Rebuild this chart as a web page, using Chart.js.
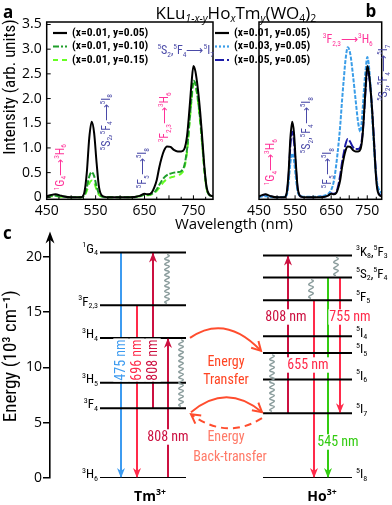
<!DOCTYPE html>
<html>
<head>
<meta charset="utf-8">
<script src="https://cdn.jsdelivr.net/npm/chart.js@4.4.1/dist/chart.umd.min.js"></script>
<style>
  html, body { margin: 0; padding: 0; background: #fff; }
  #wrap { position: relative; width: 392px; height: 505px; overflow: hidden; }
  canvas { position: absolute; left: 0; }
</style>
</head>
<body>
<div id="wrap">
  <canvas id="chartB" width="392" height="235" style="top:0"></canvas>
  <canvas id="chartA" width="392" height="235" style="top:0"></canvas>
  <canvas id="chartC" width="392" height="280" style="top:225px"></canvas>
</div>
<script>
// ---- spectra (panels a, b) ----
const wl = [450, 460, 468, 480, 500, 520, 527, 532, 537, 542, 547, 552, 557, 565, 580, 600, 620, 640, 650, 658,
  665, 670, 675, 680, 685, 690, 696, 703, 710, 718, 725, 731, 737, 742, 746, 750, 754, 759, 764, 768, 773, 777, 782, 790];
const x01y05 = [0.02, 0.05, 0.06, 0.03, 0, 0, 0.1, 0.5, 1.2, 1.53, 1.3, 0.7, 0.2, 0.02, 0, 0, 0, 0.03, 0.07, 0.06,
  0.1, 0.2, 0.35, 0.6, 0.8, 0.95, 1.03, 1.02, 0.96, 0.93, 0.93, 0.97, 1.25, 1.8, 2.3, 2.66, 2.55, 2.2, 1.7, 1.2, 0.55, 0.2, 0.06, 0.02];
const x01y10 = [0.01, 0.03, 0.03, 0.02, 0, 0, 0.04, 0.2, 0.42, 0.51, 0.43, 0.22, 0.07, 0.01, 0, 0, 0, 0.02, 0.05, 0.05,
  0.07, 0.1, 0.16, 0.25, 0.33, 0.4, 0.45, 0.48, 0.5, 0.51, 0.53, 0.63, 0.98, 1.55, 2.0, 2.36, 2.3, 2.0, 1.55, 1.1, 0.5, 0.18, 0.05, 0.02];
const x01y15 = [0.01, 0.02, 0.02, 0.01, 0, 0, 0.03, 0.13, 0.28, 0.34, 0.3, 0.15, 0.05, 0.01, 0, 0, 0, 0.02, 0.04, 0.04,
  0.06, 0.09, 0.13, 0.19, 0.26, 0.32, 0.37, 0.4, 0.42, 0.45, 0.48, 0.58, 0.93, 1.5, 1.95, 2.3, 2.26, 1.97, 1.5, 1.05, 0.47, 0.17, 0.05, 0.02];
const x03y05 = [0, 0.02, 0.02, 0.01, 0, 0.01, 0.05, 0.3, 0.7, 0.89, 0.75, 0.4, 0.12, 0.03, 0.01, 0.01, 0.02, 0.06, 0.15, 0.35,
  0.72, 1.05, 1.45, 1.95, 2.4, 2.8, 3.04, 2.9, 2.5, 1.95, 1.5, 1.33, 1.76, 2.3, 2.62, 2.84, 2.7, 2.25, 1.58, 1.1, 0.55, 0.3, 0.16, 0.08];
const x05y05 = [0.01, 0.04, 0.05, 0.02, 0, 0, 0.08, 0.42, 1.05, 1.33, 1.12, 0.6, 0.18, 0.02, 0, 0, 0.01, 0.03, 0.08, 0.07,
  0.12, 0.25, 0.45, 0.7, 0.9, 1.08, 1.18, 1.12, 1.02, 0.98, 0.98, 1.02, 1.3, 1.8, 2.25, 2.6, 2.5, 2.2, 1.72, 1.25, 0.62, 0.25, 0.08, 0.03];
const seriesNames = ["(x=0.01, y=0.05)", "(x=0.01, y=0.10)", "(x=0.01, y=0.15)", "(x=0.03, y=0.05)", "(x=0.05, y=0.05)"];
const xTicks = [450, 550, 650, 750];
const yTicks = [0, 0.5, 1, 1.5, 2, 2.5, 3, 3.5];

// ---- energy levels (panel c), 10^3 cm-1 ----
const tmLevels = ["^{1}G_{4}", "^{3}F_{2,3}", "^{3}H_{4}", "^{3}H_{5}", "^{3}F_{4}", "^{3}H_{6}"];
const tmEnergy = [20.36, 15.6, 12.65, 8.6, 6.3, 0];
const hoLevels = ["^{3}K_{8},^{5}F_{3}", "^{5}S_{2},^{5}F_{4}", "^{5}F_{5}", "^{5}I_{4}", "^{5}I_{5}", "^{5}I_{6}", "^{5}I_{7}", "^{5}I_{8}"];
const hoEnergy = [20.1, 18.1, 16.05, 12.8, 11.3, 8.9, 5.85, 0];
const eTicks = [0, 5, 10, 15, 20];
// optical transitions (level indices)
const tmFrom = [0, 1, 4, 5];
const tmTo = [5, 5, 0, 2];
const tmWave = ["475 nm", "696 nm", "808 nm", "808 nm"];
const hoFrom = [6, 2, 1, 1];
const hoTo = [0, 7, 7, 6];
const hoWave = ["808 nm", "655 nm", "545 nm", "755 nm"];
// non-radiative relaxation
const tmRelaxFrom = [0, 2];
const tmRelaxTo = [1, 4];
const hoRelaxFrom = [0, 1, 4];
const hoRelaxTo = [1, 2, 6];
// Tm -> Ho transfer, Ho -> Tm back-transfer
const etTm = [2, 4];
const etHo = [4, 6];
const btHo = [6];
const btTm = [4];

const NARROW = '"Liberation Sans Narrow", "Roboto Condensed", Roboto, sans-serif';
const SANS = '"Open Sans", "Noto Sans", sans-serif';
const MAGENTA = "#ff3399";
const HOBLUE = "#4a4aa8";

// text with ^{sup} and _{sub}; a leading * inside braces means italic
function drawRich(ctx, s, x, y, o) {
  const re = /([_^])\{([^}]*)\}|([^_^]+)/g;
  const parts = [];
  let m;
  while ((m = re.exec(s))) {
    let t = m[3] !== undefined ? m[3] : m[2];
    const k = m[3] !== undefined ? 0 : (m[1] === "^" ? 1 : -1);
    let italic = false;
    if (t[0] === "*") { italic = true; t = t.slice(1); }
    const size = k ? o.size * 0.62 : o.size;
    const font = `${italic ? "italic " : ""}${o.weight || "normal"} ${size}px ${o.family}`;
    ctx.font = font;
    parts.push({ t, k, font, w: ctx.measureText(t).width });
  }
  const total = parts.reduce((a, p) => a + p.w, 0);
  ctx.save();
  ctx.translate(x, y);
  if (o.rotate) ctx.rotate(o.rotate);
  let sx = o.align === "left" ? 0 : o.align === "right" ? -total : -total / 2;
  if (o.bg) {
    ctx.fillStyle = o.bg;
    ctx.fillRect(sx - 1, -o.size * 0.55, total + 2, o.size * 1.1);
  }
  ctx.fillStyle = o.color || "#000";
  ctx.textBaseline = "middle";
  ctx.textAlign = "left";
  for (const p of parts) {
    ctx.font = p.font;
    const dy = p.k === 1 ? -o.size * 0.33 : p.k === -1 ? o.size * 0.3 : 0;
    ctx.fillText(p.t, sx, dy);
    sx += p.w;
  }
  ctx.restore();
}

function arrowHead(ctx, x, y, ang, color, len = 10, hw = 4) {
  ctx.save();
  ctx.translate(x, y);
  ctx.rotate(ang);
  ctx.beginPath();
  ctx.moveTo(0, 0);
  ctx.lineTo(-len, -hw);
  ctx.lineTo(-len * 0.7, 0);
  ctx.lineTo(-len, hw);
  ctx.closePath();
  ctx.fillStyle = color;
  ctx.fill();
  ctx.restore();
}

function openHead(ctx, x, y, ang, color) {
  ctx.save();
  ctx.translate(x, y);
  ctx.rotate(ang);
  ctx.beginPath();
  ctx.moveTo(-9, -5);
  ctx.lineTo(0, 0);
  ctx.lineTo(-9, 5);
  ctx.strokeStyle = color;
  ctx.lineWidth = 2;
  ctx.stroke();
  ctx.restore();
}

function wavy(ctx, x, y0, y1) {
  const n = Math.max(2, Math.round(Math.abs(y1 - y0) / 5.5));
  const st = (y1 - y0) / n;
  ctx.beginPath();
  ctx.moveTo(x, y0);
  for (let i = 0; i < n; i++) {
    const ya = y0 + st * i;
    ctx.bezierCurveTo(x + 8, ya + st / 3, x - 8, ya + (2 * st) / 3, x, ya + st);
  }
  ctx.strokeStyle = "#8a9c9c";
  ctx.lineWidth = 1.4;
  ctx.stroke();
}

function spectrum(label, vals, color, dash, legendDash) {
  return {
    label,
    data: wl.map((w, i) => ({ x: w, y: vals[i] })),
    borderColor: color,
    borderDash: dash,
    legendDash,
    borderWidth: 2,
    pointRadius: 0,
    cubicInterpolationMode: "monotone",
    fill: false
  };
}

const panelPlugin = {
  id: "panel",
  afterDatasetsDraw(chart, args, opts) {
    const { ctx, chartArea: ca, scales: { x, y } } = chart;
    ctx.save();
    ctx.strokeStyle = "#000";
    ctx.lineWidth = 1.5;
    ctx.strokeRect(ca.left, ca.top, ca.right - ca.left, ca.bottom - ca.top);
    ctx.lineWidth = 1;
    for (let v = 475; v < 790; v += 25) {
      const px = x.getPixelForValue(v);
      ctx.beginPath();
      ctx.moveTo(px, ca.bottom);
      ctx.lineTo(px, ca.bottom - (v % 50 === 0 ? 4 : 2.5));
      ctx.stroke();
    }
    if (opts.yTicks) {
      for (const v of yTicks) {
        const py = y.getPixelForValue(v);
        ctx.beginPath();
        ctx.moveTo(ca.left, py);
        ctx.lineTo(ca.left + 4, py);
        ctx.stroke();
      }
    }
    chart.data.datasets.forEach((ds, i) => {
      const ly = opts.legendY + i * 13.5;
      ctx.beginPath();
      ctx.setLineDash(ds.legendDash || []);
      ctx.strokeStyle = ds.borderColor;
      ctx.lineWidth = 2.2;
      ctx.moveTo(opts.legendX, ly);
      ctx.lineTo(opts.legendX + 14, ly);
      ctx.stroke();
      ctx.setLineDash([]);
      ctx.font = `bold 11.5px ${NARROW}`;
      ctx.fillStyle = "#000";
      ctx.textBaseline = "middle";
      ctx.textAlign = "left";
      ctx.fillText(ds.label, opts.legendX + 19, ly);
    });
    for (const n of opts.notes) {
      drawRich(ctx, n.text, x.getPixelForValue(n.wl), y.getPixelForValue(n.val),
        { size: 12, family: NARROW, color: n.color, rotate: n.rot ? -Math.PI / 2 : 0 });
    }
    if (opts.captions) opts.captions(ctx);
    ctx.restore();
  }
};

function xAxis() {
  return {
    type: "linear", min: 450, max: 790,
    grid: { display: false, drawTicks: false },
    border: { display: false },
    afterBuildTicks: (s) => { s.ticks = xTicks.map((v) => ({ value: v })); },
    afterFit: (s) => { s.height = 35.7; },
    ticks: { padding: 3, color: "#000", font: { family: SANS, size: 14 }, maxRotation: 0, autoSkip: false }
  };
}

function yAxis(show) {
  return {
    display: show, min: -0.04, max: 3.55,
    grid: { display: false, drawTicks: false },
    border: { display: false },
    afterBuildTicks: (s) => { s.ticks = yTicks.map((v) => ({ value: v })); },
    afterFit: (s) => { s.width = 46.7; },
    ticks: { padding: 5, color: "#000", font: { family: SANS, size: 14 },
      callback: (v) => (v === 0 ? "0" : v.toFixed(1)) }
  };
}

const common = {
  responsive: false,
  animation: false,
  devicePixelRatio: 1,
  events: []
};

new Chart(document.getElementById("chartA"), {
  type: "line",
  data: {
    datasets: [
      spectrum(seriesNames[0], x01y05, "#000000", [], []),
      spectrum(seriesNames[1], x01y10, "#1f9e2a", [6, 2], [6, 2, 2, 2]),
      spectrum(seriesNames[2], x01y15, "#66ff22", [6, 4], [5, 4])
    ]
  },
  options: {
    ...common,
    layout: { padding: { left: 0, right: 179, top: 22, bottom: 0 } },
    scales: { x: xAxis(), y: yAxis(true) },
    plugins: {
      legend: { display: false },
      tooltip: { enabled: false },
      panel: {
        legendX: 53, legendY: 33, yTicks: true,
        notes: [
          { text: "^{1}G_{4}⟶^{3}H_{6}", wl: 479, val: 0.61, rot: true, color: MAGENTA },
          { text: "^{5}S_{2},^{5}F_{4}⟶^{5}I_{8}", wl: 573, val: 1.52, rot: true, color: HOBLUE },
          { text: "^{5}F_{5}⟶^{5}I_{8}", wl: 647, val: 0.59, rot: true, color: HOBLUE },
          { text: "^{3}F_{2,3}⟶^{3}H_{6}", wl: 692, val: 1.62, rot: true, color: MAGENTA },
          { text: "^{5}S_{2},^{5}F_{4}⟶^{5}I_{7}", wl: 734, val: 2.96, rot: false, color: HOBLUE }
        ],
        captions: (ctx) => {
          drawRich(ctx, "Intensity (arb. units)", 11, 87, { size: 17, family: NARROW, rotate: -Math.PI / 2 });
          drawRich(ctx, "a", 3, 13, { size: 17, family: SANS, weight: "bold", align: "left" });
        }
      }
    }
  },
  plugins: [panelPlugin]
});

new Chart(document.getElementById("chartB"), {
  type: "line",
  data: {
    datasets: [
      spectrum(seriesNames[0], x01y05, "#000000", [], []),
      spectrum(seriesNames[3], x03y05, "#3a9de8", [4, 1.5], [2, 2]),
      spectrum(seriesNames[4], x05y05, "#1c1ca8", [9, 2], [9, 3])
    ]
  },
  options: {
    ...common,
    layout: { padding: { left: 212.3, right: 10.3, top: 22, bottom: 0 } },
    scales: { x: xAxis(), y: yAxis(false) },
    plugins: {
      legend: { display: false },
      tooltip: { enabled: false },
      panel: {
        legendX: 215, legendY: 33, yTicks: false,
        notes: [
          { text: "^{1}G_{4}⟶^{3}H_{6}", wl: 484, val: 0.71, rot: true, color: MAGENTA },
          { text: "^{5}S_{2},^{5}F_{4}⟶^{5}I_{8}", wl: 584, val: 1.46, rot: true, color: HOBLUE },
          { text: "^{5}F_{5}⟶^{5}I_{8}", wl: 642, val: 0.59, rot: true, color: HOBLUE },
          { text: "^{3}F_{2,3}⟶^{3}H_{6}", wl: 696, val: 3.18, rot: false, color: MAGENTA },
          { text: "^{5}S_{2},^{5}F_{4}⟶^{5}I_{7}", wl: 797, val: 2.52, rot: true, color: HOBLUE }
        ],
        captions: (ctx) => {
          drawRich(ctx, "KLu_{*1-x-y}Ho_{*x}Tm_{*y}(WO_{4})_{2}", 236, 14, { size: 17, family: SANS });
          drawRich(ctx, "b", 371, 12, { size: 17, family: SANS, weight: "bold" });
          drawRich(ctx, "Wavelength (nm)", 234, 225, { size: 15, family: SANS });
        }
      }
    }
  },
  plugins: [panelPlugin]
});

// ---- panel c: energy level diagram ----
const TOP_C = 225;
const TM_X = [100, 186];
const HO_X = [263, 352];
const TM_ARROW_X = [121, 137, 153, 168];
const TM_ARROW_COLOR = ["#3d9bf0", "#ff2a4a", "#cc1040", "#cc1040"];
const HO_ARROW_X = [288, 314, 328, 340];
const HO_ARROW_COLOR = ["#cc1040", "#ff2a4a", "#33cc11", "#ff2a4a"];
const TM_RELAX_X = [167, 181];
const HO_RELAX_X = [336, 311, 272];

function seg(x0, x1, e0, e1, color) {
  return { data: [{ x: x0, y: e0 }, { x: x1, y: e1 }], borderColor: color, borderWidth: 2, pointRadius: 0, fill: false };
}

const diagramSets = [];
tmEnergy.forEach((e) => diagramSets.push(seg(TM_X[0], TM_X[1], e, e, "#000")));
hoEnergy.forEach((e) => diagramSets.push(seg(HO_X[0], HO_X[1], e, e, "#000")));
tmFrom.forEach((f, i) => diagramSets.push(seg(TM_ARROW_X[i], TM_ARROW_X[i], tmEnergy[f], tmEnergy[tmTo[i]], TM_ARROW_COLOR[i])));
hoFrom.forEach((f, i) => diagramSets.push(seg(HO_ARROW_X[i], HO_ARROW_X[i], hoEnergy[f], hoEnergy[hoTo[i]], HO_ARROW_COLOR[i])));

const diagramPlugin = {
  id: "diagram",
  afterDatasetsDraw(chart) {
    const { ctx, chartArea: ca, scales: { x, y } } = chart;
    const X = (v) => x.getPixelForValue(v);
    const Y = (e) => y.getPixelForValue(e);
    const P = (pageY) => pageY - TOP_C;
    ctx.save();
    arrowHead(ctx, X(50), ca.top - 3, -Math.PI / 2, "#000", 12, 4.5);

    tmRelaxFrom.forEach((f, i) => wavy(ctx, X(TM_RELAX_X[i]), Y(tmEnergy[f]) + 2, Y(tmEnergy[tmRelaxTo[i]]) - 2));
    hoRelaxFrom.forEach((f, i) => wavy(ctx, X(HO_RELAX_X[i]), Y(hoEnergy[f]) + 2, Y(hoEnergy[hoRelaxTo[i]]) - 2));

    tmFrom.forEach((f, i) => {
      const t = tmTo[i];
      arrowHead(ctx, X(TM_ARROW_X[i]), Y(tmEnergy[t]), tmEnergy[t] < tmEnergy[f] ? Math.PI / 2 : -Math.PI / 2, TM_ARROW_COLOR[i]);
    });
    hoFrom.forEach((f, i) => {
      const t = hoTo[i];
      arrowHead(ctx, X(HO_ARROW_X[i]), Y(hoEnergy[t]), hoEnergy[t] < hoEnergy[f] ? Math.PI / 2 : -Math.PI / 2, HO_ARROW_COLOR[i]);
    });

    // wavelength labels
    const lab = { size: 14, family: NARROW, bg: "#fff" };
    for (let i = 0; i < 3; i++) {
      drawRich(ctx, tmWave[i], X(TM_ARROW_X[i]), P(360), { ...lab, color: TM_ARROW_COLOR[i], rotate: -Math.PI / 2 });
    }
    drawRich(ctx, tmWave[3], X(TM_ARROW_X[3]), P(437), { ...lab, color: TM_ARROW_COLOR[3] });
    const hoLab = [[286, 317], [308, 365], [338, 442], [350, 317]];
    hoWave.forEach((w, i) => drawRich(ctx, w, X(hoLab[i][0]), P(hoLab[i][1]), { ...lab, color: HO_ARROW_COLOR[i] }));

    // level names
    tmLevels.forEach((n, i) => drawRich(ctx, n, X(98), Y(tmEnergy[i]) - 3, { size: 13, family: NARROW, align: "right" }));
    hoLevels.forEach((n, i) => drawRich(ctx, n, X(356), Y(hoEnergy[i]) - 3, { size: 13, family: NARROW, align: "left" }));

    // energy transfer arcs
    const ET = "#ff4d2e";
    const arcs = [
      { a: [TM_X[1] + 4, Y(tmEnergy[etTm[0]])], b: [HO_X[0] - 2, Y(hoEnergy[etHo[0]]) - 2], bend: -31, dash: [] },
      { a: [TM_X[1] + 5, Y(tmEnergy[etTm[1]]) + 4], b: [HO_X[0] - 1, Y(hoEnergy[etHo[1]]) - 1], bend: -30, dash: [] },
      { a: [HO_X[0] - 1, Y(hoEnergy[btHo[0]]) + 5], b: [TM_X[1] + 5, Y(tmEnergy[btTm[0]]) + 6], bend: 24, dash: [7, 5] }
    ];
    for (const c of arcs) {
      const cx = (c.a[0] + c.b[0]) / 2;
      const cy = (c.a[1] + c.b[1]) / 2 + c.bend;
      ctx.beginPath();
      ctx.setLineDash(c.dash);
      ctx.strokeStyle = ET;
      ctx.lineWidth = 2;
      ctx.moveTo(c.a[0], c.a[1]);
      ctx.quadraticCurveTo(cx, cy, c.b[0], c.b[1]);
      ctx.stroke();
      ctx.setLineDash([]);
      openHead(ctx, c.b[0], c.b[1], Math.atan2(c.b[1] - cy, c.b[0] - cx), ET);
    }
    drawRich(ctx, "Energy", 226, P(362), { size: 14, family: NARROW, color: "#ff4422" });
    drawRich(ctx, "Transfer", 226, P(380), { size: 14, family: NARROW, color: "#ff4422" });
    drawRich(ctx, "Energy", 226, P(437), { size: 14, family: NARROW, color: "#ff7a68" });
    drawRich(ctx, "Back-transfer", 230, P(457), { size: 14, family: NARROW, color: "#ff7a68" });

    drawRich(ctx, "Tm^{3+}", 150, P(497), { size: 14, family: SANS, weight: "bold" });
    drawRich(ctx, "Ho^{3+}", 322, P(497), { size: 14, family: SANS, weight: "bold" });
    drawRich(ctx, "c", 3, P(234), { size: 17, family: SANS, weight: "bold", align: "left" });
    ctx.restore();
  }
};

new Chart(document.getElementById("chartC"), {
  type: "line",
  data: { datasets: diagramSets },
  options: {
    ...common,
    layout: { padding: { left: 0, right: 0, top: 7, bottom: 27 } },
    scales: {
      x: { type: "linear", min: 50, max: 392, display: false },
      y: {
        min: 0, max: 22,
        afterBuildTicks: (s) => { s.ticks = eTicks.map((v) => ({ value: v })); },
        afterFit: (s) => { s.width = 50; },
        grid: { display: true, drawOnChartArea: false, drawTicks: true, tickLength: 7, color: "#000", lineWidth: 1.5 },
        border: { display: true, color: "#000", width: 1.6 },
        ticks: { padding: 1, color: "#000", font: { family: SANS, size: 14 } },
        title: { display: true, text: "Energy (10³ cm⁻¹)", color: "#000", font: { family: NARROW, size: 19 }, padding: 0 }
      }
    },
    plugins: { legend: { display: false }, tooltip: { enabled: false } }
  },
  plugins: [diagramPlugin]
});
</script>
</body>
</html>
